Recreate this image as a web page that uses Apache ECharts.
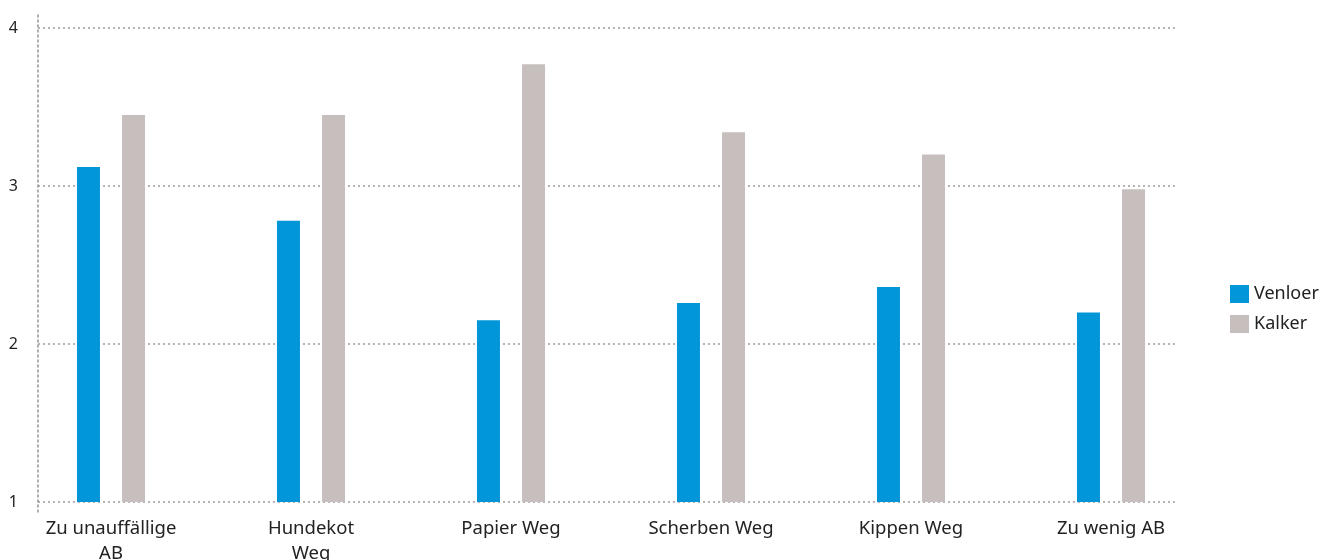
<!DOCTYPE html>
<html><head><meta charset="utf-8">
<script src="https://cdn.jsdelivr.net/npm/echarts@6/dist/echarts.min.js"></script>
<style>html,body{margin:0;padding:0;background:#fff}#c{width:1335px;height:560px}</style>
</head><body><div id="c"></div>
<script>
const categories = ['Zu unauffällige\nAB', 'Hundekot\nWeg', 'Papier Weg', 'Scherben Weg', 'Kippen Weg', 'Zu wenig AB'];
const venloer = [3.12, 2.78, 2.15, 2.26, 2.36, 2.20];
const kalker = [3.45, 3.45, 3.77, 3.34, 3.20, 2.98];
const yTicks = [1, 2, 3, 4];

const font = '"Noto Sans", sans-serif';
const dot = { type: [2, 3], width: 1.6, color: '#a09a9a' };
const chart = echarts.init(document.getElementById('c'));
chart.setOption({
  animation: false,
  textStyle: { fontFamily: font },
  grid: [
    { left: 11, right: 124, top: 28, bottom: 58, outerBoundsMode: 'none', containLabel: false },
    { left: 38, right: 157, top: 28, bottom: 58, outerBoundsMode: 'none', containLabel: false },
    { left: 38, right: 157, top: 14, bottom: 48, outerBoundsMode: 'none', containLabel: false }
  ],
  legend: {
    orient: 'vertical', left: 1225, top: 280,
    itemWidth: 19, itemHeight: 18, itemGap: 12,
    icon: 'rect',
    textStyle: { fontSize: 18, color: '#222', fontFamily: font },
    data: ['Venloer', 'Kalker']
  },
  xAxis: [
    { type: 'category', gridIndex: 0, data: categories,
      axisLine: { show: false }, axisTick: { show: false },
      axisLabel: { fontSize: 18.5, color: '#222', margin: 14, lineHeight: 25, interval: 0 } },
    { type: 'value', gridIndex: 1, show: false, min: 0, max: 1 },
    { type: 'value', gridIndex: 2, show: false, min: 0, max: 1 }
  ],
  yAxis: [
    { type: 'value', gridIndex: 0, min: yTicks[0], max: yTicks[yTicks.length - 1], interval: 1, show: false },
    { type: 'value', gridIndex: 1, min: yTicks[0], max: yTicks[yTicks.length - 1], interval: 1,
      axisLine: { show: false }, axisTick: { show: false },
      axisLabel: { fontSize: 16, color: '#222', margin: 20 },
      splitLine: { show: true, lineStyle: dot } },
    { type: 'value', gridIndex: 2, min: 0, max: 1, axisLabel: { show: false },
      axisTick: { show: false }, splitLine: { show: false },
      axisLine: { show: true, lineStyle: dot } }
  ],
  series: [
    { name: 'Venloer', type: 'bar', xAxisIndex: 0, yAxisIndex: 0, data: venloer,
      barWidth: 23, barGap: '96%', itemStyle: { color: '#0096d8' } },
    { name: 'Kalker', type: 'bar', xAxisIndex: 0, yAxisIndex: 0, data: kalker,
      barWidth: 23, barGap: '96%', itemStyle: { color: '#c6bfbe' } }
  ]
});
</script></body></html>
